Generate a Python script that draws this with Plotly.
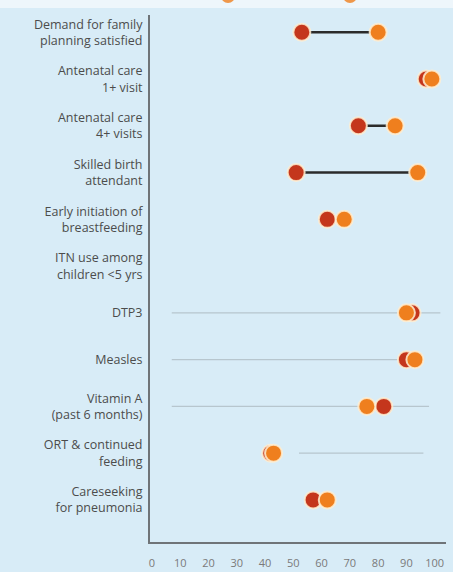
import plotly.graph_objects as go

categories = [
    "Demand for family<br>planning satisfied",
    "Antenatal care<br>1+ visit",
    "Antenatal care<br>4+ visits",
    "Skilled birth<br>attendant",
    "Early initiation of<br>breastfeeding",
    "ITN use among<br>children <5 yrs",
    "DTP3",
    "Measles",
    "Vitamin A<br>(past 6 months)",
    "ORT & continued<br>feeding",
    "Careseeking<br>for pneumonia",
]
dark_values = [53, 97, 73, 51, 62, None, 92, 90, 82, 42, 57]
orange_values = [80, 99, 86, 94, 68, None, 90, 93, 76, 43, 62]
range_low = [None, None, None, None, None, None, 7, 7, 7, 52, None]
range_high = [None, None, None, None, None, None, 102, 89, 98, 96, None]
xticks = [0, 10, 20, 30, 40, 50, 60, 70, 80, 90, 100]

DARK = "#c4361c"
ORANGE = "#ef7f1e"
BG = "#d8ecf7"
HALO = "rgba(255,238,210,0.85)"

fig = go.Figure()

# faint background range lines
for c, lo, hi in zip(categories, range_low, range_high):
    if lo is None:
        continue
    fig.add_trace(go.Scatter(x=[lo, hi], y=[c, c], mode="lines",
                             line=dict(color="rgba(150,160,165,0.5)", width=1.2),
                             hoverinfo="skip", showlegend=False))

# connecting lines
for c, d, o in zip(categories, dark_values, orange_values):
    if d is None:
        continue
    fig.add_trace(go.Scatter(x=[d, o], y=[c, c], mode="lines",
                             line=dict(color="#2b2b2b", width=2.5),
                             hoverinfo="skip", showlegend=False))

cats_d = [c for c, v in zip(categories, dark_values) if v is not None]
vals_d = [v for v in dark_values if v is not None]
cats_o = [c for c, v in zip(categories, orange_values) if v is not None]
vals_o = [v for v in orange_values if v is not None]

fig.add_trace(go.Scatter(x=vals_d, y=cats_d, mode="markers",
                         marker=dict(color=DARK, size=17, line=dict(color=HALO, width=2)),
                         showlegend=False))
fig.add_trace(go.Scatter(x=vals_o, y=cats_o, mode="markers",
                         marker=dict(color=ORANGE, size=17, line=dict(color=HALO, width=2)),
                         showlegend=False))

fig.update_layout(
    width=453, height=572,
    margin=dict(l=150, r=7, t=15, b=30),
    paper_bgcolor=BG, plot_bgcolor=BG,
    font=dict(family="Open Sans, Lato, sans-serif", size=12, color="#4c4c4c"),
    xaxis=dict(range=[-0.7, 104], tickvals=xticks, ticktext=[str(t) for t in xticks],
               showgrid=False, zeroline=False, showline=True, linecolor="#6f7478", linewidth=2,
               ticks="outside", ticklen=10, tickcolor="rgba(0,0,0,0)", automargin=False,
               tickfont=dict(size=11, color="#7a7a7a"), fixedrange=True),
    yaxis=dict(type="category", categoryorder="array", categoryarray=categories,
               range=[10.9, -0.37], showgrid=False, zeroline=False, automargin=False,
               showline=True, linecolor="#6f7478", linewidth=2,
               ticks="outside", ticklen=3, tickcolor="rgba(0,0,0,0)",
               tickfont=dict(size=12.5, color="#4c4c4c")),
)

# top strip (cropped legend)
fig.add_shape(type="rect", xref="paper", yref="paper", x0=-0.6, x1=1.1,
              y0=1 + 7 / 527, y1=1 + 16 / 527,
              fillcolor="#eef6fb", line=dict(width=0), layer="above")
for xp in [(228 - 150) / 296, (350 - 150) / 296]:
    fig.add_shape(type="circle", xref="paper", yref="paper", xsizemode="pixel", ysizemode="pixel",
                  xanchor=xp, yanchor=1 + 19 / 527, x0=-7, x1=7, y0=-7, y1=7,
                  fillcolor=ORANGE, line=dict(width=0), opacity=0.8, layer="above")

fig.write_html("out.html", config={"displayModeBar": False})

with open("out.html", "r", encoding="utf-8") as f:
    html = f.read()
html = html.replace("<head>", "<head><style>html,body{margin:0;padding:0;overflow:hidden;}</style>", 1)
with open("out.html", "w", encoding="utf-8") as f:
    f.write(html)
